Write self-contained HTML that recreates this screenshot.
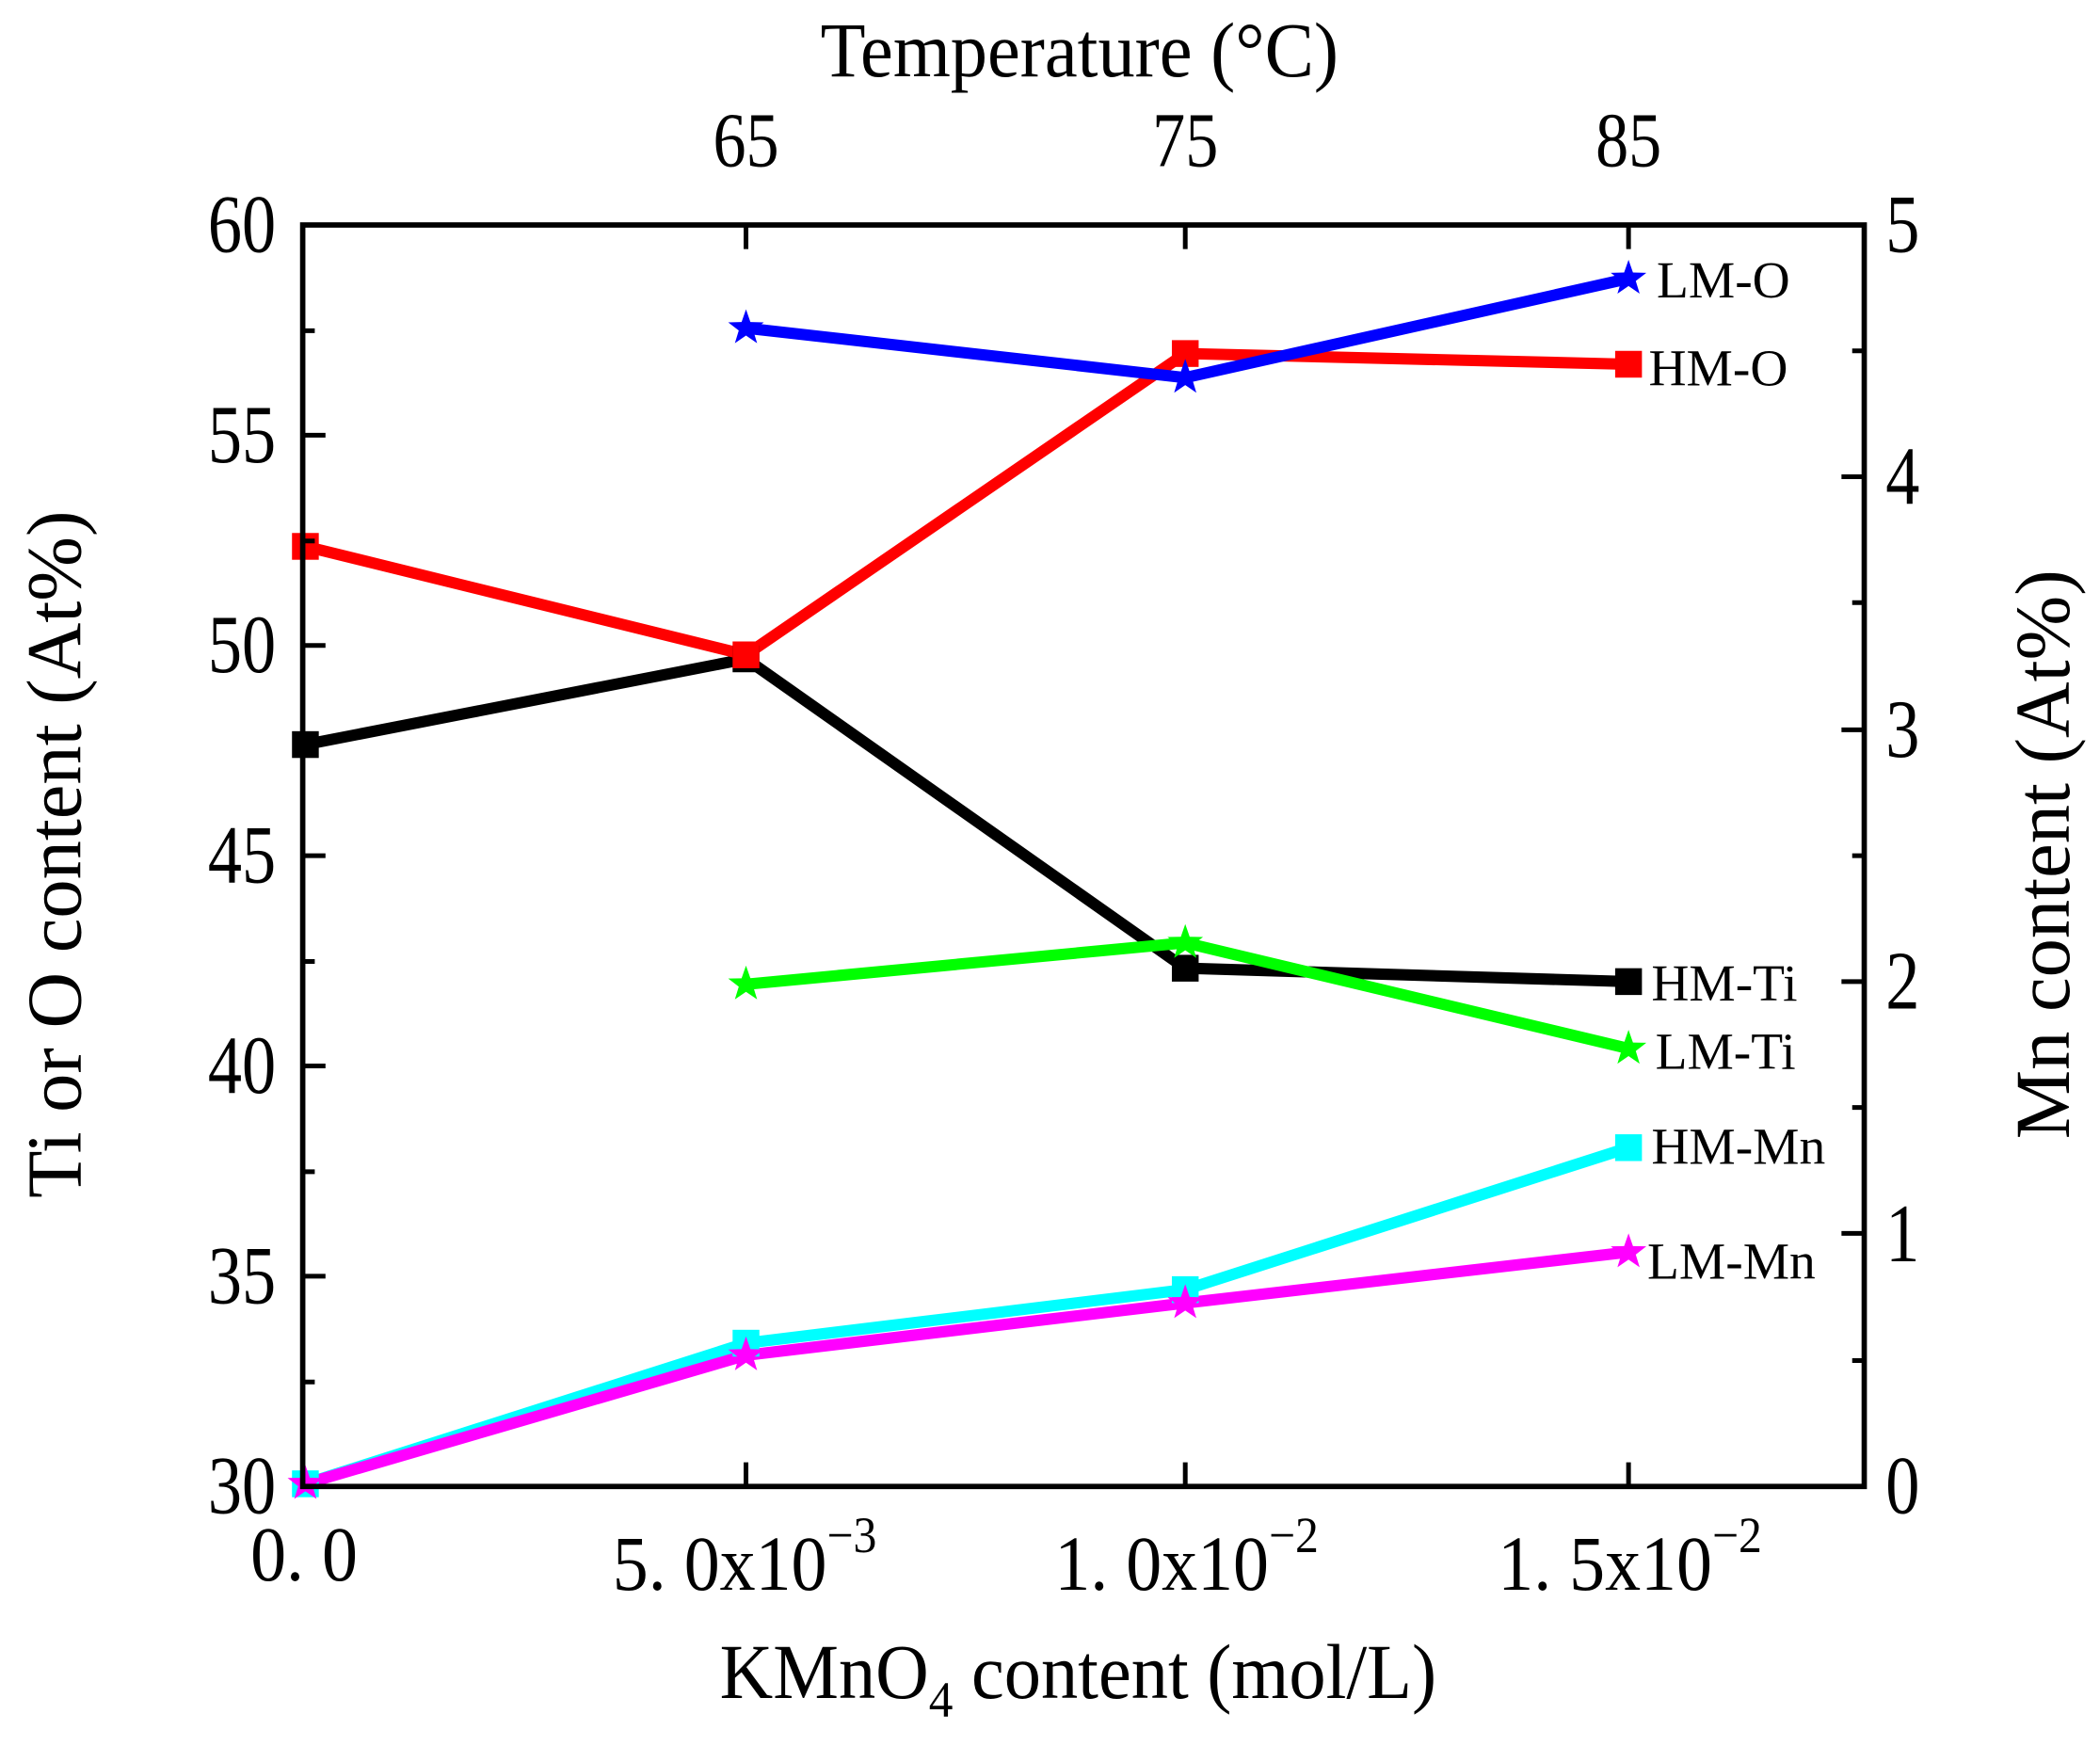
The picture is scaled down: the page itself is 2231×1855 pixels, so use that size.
<!DOCTYPE html>
<html><head><meta charset="utf-8"><style>html,body{margin:0;padding:0;background:#fff}svg{display:block}</style></head>
<body>
<svg width="2231" height="1855" viewBox="0 0 1568 1303.8" xmlns="http://www.w3.org/2000/svg" font-family="Liberation Serif, serif">
<defs>
<path id="st" d="M0,-14 L3.3,-4.5 L13.3,-4.3 L5.4,1.8 L8.3,11.3 L0,5.6 L-8.3,11.3 L-5.4,1.8 L-13.3,-4.3 L-3.3,-4.5 Z"/>
</defs>
<g fill="none" stroke-linejoin="round" stroke-linecap="round" stroke-width="8.5">
<polyline stroke="#000" points="228,556 557,492 885,723 1216,733"/>
<polyline stroke="#f00" points="228,408 557,489 885,264 1216,272"/>
<polyline stroke="#00f" points="557,245 885,282 1216,208"/>
<polyline stroke="#0f0" points="557,735 885,704 1216,783"/>
<polyline stroke="#0ff" points="228,1108 557,1003 885,963 1216,857"/>
<polyline stroke="#f0f" points="228,1108 557,1012 885,973 1216,935"/>
</g>
<g fill="#000"><rect x="218" y="546" width="20" height="20"/><rect x="547" y="482" width="20" height="20"/><rect x="875" y="713" width="20" height="20"/><rect x="1206" y="723" width="20" height="20"/></g>
<g fill="#f00"><rect x="218" y="398" width="20" height="20"/><rect x="547" y="479" width="20" height="20"/><rect x="875" y="254" width="20" height="20"/><rect x="1206" y="262" width="20" height="20"/></g>
<g fill="#0ff"><rect x="218" y="1098" width="20" height="20"/><rect x="547" y="993" width="20" height="20"/><rect x="875" y="953" width="20" height="20"/><rect x="1206" y="847" width="20" height="20"/></g>
<g fill="#00f"><use href="#st" x="557" y="245"/><use href="#st" x="885" y="282"/><use href="#st" x="1216" y="208"/></g>
<g fill="#0f0"><use href="#st" x="557" y="735"/><use href="#st" x="885" y="704"/><use href="#st" x="1216" y="783"/></g>
<g fill="#f0f"><use href="#st" x="228" y="1108"/><use href="#st" x="557" y="1012"/><use href="#st" x="885" y="973"/><use href="#st" x="1216" y="935"/></g>
<rect x="226" y="168" width="1166" height="942" fill="none" stroke="#000" stroke-width="4"/>
<g stroke="#000" stroke-width="3.5">
<path d="M557,168v18M885,168v18M1216,168v18M557,1110v-18M885,1110v-18M1216,1110v-18"/>
<path d="M226,325h17M226,482h17M226,639h17M226,796h17M226,953h17"/>
<path d="M226,247h9M226,404h9M226,561h9M226,718h9M226,875h9M226,1032h9"/>
<path d="M1392,356h-17M1392,545h-17M1392,733h-17M1392,921h-17"/>
<path d="M1392,262h-9M1392,450h-9M1392,639h-9M1392,827h-9M1392,1016h-9"/>
</g>
<g font-size="62" fill="#000" text-anchor="end">
<text transform="translate(206,188) scale(0.82,1)">60</text>
<text transform="translate(206,345) scale(0.82,1)">55</text>
<text transform="translate(206,502) scale(0.82,1)">50</text>
<text transform="translate(206,659) scale(0.82,1)">45</text>
<text transform="translate(206,816) scale(0.82,1)">40</text>
<text transform="translate(206,973) scale(0.82,1)">35</text>
<text transform="translate(206,1130) scale(0.82,1)">30</text>
</g>
<g font-size="62" fill="#000">
<text transform="translate(1408,188) scale(0.82,1)">5</text>
<text transform="translate(1408,376) scale(0.82,1)">4</text>
<text transform="translate(1408,565) scale(0.82,1)">3</text>
<text transform="translate(1408,753) scale(0.82,1)">2</text>
<text transform="translate(1408,942) scale(0.82,1)">1</text>
<text transform="translate(1408,1130) scale(0.82,1)">0</text>
</g>
<g font-size="58" fill="#000" text-anchor="middle">
<text transform="translate(557,124) scale(0.85,1)">65</text>
<text transform="translate(885,124) scale(0.85,1)">75</text>
<text transform="translate(1216,124) scale(0.85,1)">85</text>
<text transform="translate(806,57) scale(0.95,1)">Temperature (°C)</text>
<text transform="translate(227,1180) scale(0.92,1)">0. 0</text>
<text transform="translate(556,1187) scale(0.92,1)">5. 0x10<tspan font-size="38" dy="-28">−3</tspan></text>
<text transform="translate(886,1187) scale(0.92,1)">1. 0x10<tspan font-size="38" dy="-28">−2</tspan></text>
<text transform="translate(1217,1187) scale(0.92,1)">1. 5x10<tspan font-size="38" dy="-28">−2</tspan></text>
<text transform="translate(805,1268) scale(0.95,1)">KMnO<tspan font-size="38" dy="14">4</tspan><tspan dy="-14"> content (mol/L)</tspan></text>
</g>
<text transform="translate(60,638) rotate(-90)" font-size="58" text-anchor="middle">Ti or O content (At%)</text>
<text transform="translate(1545,638) rotate(-90)" font-size="58" text-anchor="middle">Mn content (At%)</text>
<g font-size="39" fill="#000">
<text x="1237" y="222">LM-O</text><text x="1231" y="288">HM-O</text><text x="1233" y="747">HM-Ti</text><text x="1236" y="798">LM-Ti</text><text x="1233" y="869">HM-Mn</text><text x="1230" y="955">LM-Mn</text>
</g>
</svg>
</body></html>
